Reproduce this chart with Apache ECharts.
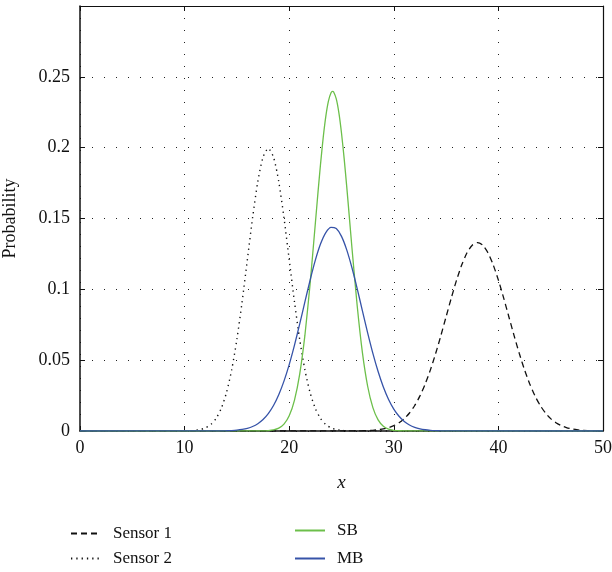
<!DOCTYPE html>
<html><head><meta charset="utf-8">
<script src="https://cdn.jsdelivr.net/npm/echarts@6/dist/echarts.min.js"></script>
<style>html,body{margin:0;padding:0;background:#fff}#c{width:612px;height:572px}</style>
</head><body><div id="c"></div>
<script>
var xTicks = [0, 10, 20, 30, 40, 50];
var yTicks = [0, 0.05, 0.1, 0.15, 0.2, 0.25];
var seriesNames = ['Sensor 1', 'Sensor 2', 'SB', 'MB'];

var sensor1X = [0, 26, 27, 28, 28.5, 29, 29.5, 30, 30.5, 31, 31.5, 32, 32.5, 33, 33.5, 34, 34.5, 35, 35.5, 36, 36.5, 37, 37.5, 38, 38.5, 39, 39.5, 40, 40.5, 41, 41.5, 42, 42.5, 43, 43.5, 44, 44.5, 45, 45.5, 46, 46.5, 47, 47.5, 48, 49, 50];
var sensor1Y = [0, 0.00004, 0.00016, 0.00051, 0.00088, 0.00148, 0.00240, 0.00380, 0.00584, 0.00874, 0.01272, 0.01800, 0.02477, 0.03316, 0.04317, 0.05467, 0.06733, 0.08066, 0.09397, 0.10648, 0.11735, 0.12579, 0.13115, 0.13298, 0.13115, 0.12579, 0.11735, 0.10648, 0.09397, 0.08066, 0.06733, 0.05467, 0.04317, 0.03316, 0.02477, 0.01800, 0.01272, 0.00874, 0.00584, 0.00380, 0.00240, 0.00148, 0.00088, 0.00051, 0.00016, 0.00004];

var sensor2X = [0, 10, 10.5, 11, 11.5, 12, 12.5, 13, 13.5, 14, 14.5, 15, 15.5, 16, 16.5, 17, 17.5, 18, 18.5, 19, 19.5, 20, 20.5, 21, 21.5, 22, 22.5, 23, 23.5, 24, 24.5, 25, 25.5, 26, 50];
var sensor2Y = [0, 0.00007, 0.00018, 0.00044, 0.00102, 0.00222, 0.00455, 0.00876, 0.01587, 0.02700, 0.04314, 0.06476, 0.09132, 0.12098, 0.15057, 0.17603, 0.19333, 0.19947, 0.19333, 0.17603, 0.15057, 0.12098, 0.09132, 0.06476, 0.04314, 0.02700, 0.01587, 0.00876, 0.00455, 0.00222, 0.00102, 0.00044, 0.00018, 0.00007, 0];

var sbX = [0, 17, 17.5, 18, 18.5, 19, 19.5, 20, 20.5, 21, 21.5, 22, 22.5, 22.75, 23, 23.25, 23.5, 23.75, 24, 24.15, 24.25, 24.5, 24.75, 25, 25.25, 25.5, 25.75, 26, 26.5, 27, 27.5, 28, 28.5, 29, 29.5, 30, 30.5, 31, 50];
var sbY = [0, 0.00002, 0.00008, 0.00026, 0.00075, 0.00199, 0.00483, 0.01069, 0.02162, 0.03995, 0.06745, 0.10403, 0.14662, 0.16826, 0.18878, 0.20708, 0.22209, 0.23287, 0.23873, 0.23970, 0.23927, 0.23445, 0.22462, 0.21038, 0.19265, 0.17249, 0.15097, 0.12920, 0.08843, 0.05529, 0.03159, 0.01649, 0.00786, 0.00343, 0.00136, 0.00050, 0.00017, 0.00005, 0];

var mbX = [0, 13, 13.5, 14, 14.5, 15, 15.5, 16, 16.5, 17, 17.5, 18, 18.5, 19, 19.5, 20, 20.5, 21, 21.5, 22, 22.5, 23, 23.5, 24, 24.5, 25, 25.5, 26, 26.5, 27, 27.5, 28, 28.5, 29, 29.5, 30, 30.5, 31, 31.5, 32, 32.5, 33, 33.5, 34, 34.5, 35, 36, 50];
var mbY = [0, 0.00005, 0.00009, 0.00018, 0.00033, 0.00061, 0.00110, 0.00190, 0.00318, 0.00515, 0.00807, 0.01225, 0.01798, 0.02558, 0.03519, 0.04688, 0.06044, 0.07543, 0.09112, 0.10655, 0.12059, 0.13211, 0.14009, 0.14379, 0.14286, 0.13738, 0.12787, 0.11521, 0.10048, 0.08482, 0.06931, 0.05481, 0.04196, 0.03109, 0.02230, 0.01548, 0.01040, 0.00677, 0.00426, 0.00260, 0.00153, 0.00087, 0.00048, 0.00026, 0.00013, 0.00007, 0.00002, 0];

function pairs(xs, ys) { return xs.map(function (x, i) { return [x, ys[i]]; }); }

var FONT = '"Liberation Serif", "DejaVu Serif", serif';
var gridLine = { show: true, lineStyle: { color: '#222', width: 1, type: [1, 11] } };
var legendBase = { itemWidth: 30, itemHeight: 12, itemGap: 0,
  itemStyle: { opacity: 0 },
  textStyle: { fontFamily: FONT, fontSize: 17, color: '#111', padding: [0, 0, 0, 7] } };
function legendAt(name, left, top) {
  return Object.assign({}, legendBase, { data: [name], left: left, top: top });
}

var chart = echarts.init(document.getElementById('c'), null, { renderer: 'canvas' });
chart.setOption({
  animation: false,
  backgroundColor: '#fff',
  textStyle: { fontFamily: FONT },
  grid: { left: 80, right: 9, top: 6, bottom: 141, containLabel: false, outerBoundsMode: 'none' },
  xAxis: [{
    type: 'value', min: 0, max: 50, interval: 10, position: 'bottom',
    name: 'x', nameLocation: 'middle', nameGap: 42,
    nameTextStyle: { fontFamily: FONT, fontSize: 19, fontStyle: 'italic', color: '#111' },
    axisLine: { show: true, onZero: false, lineStyle: { color: '#111', width: 1.5 } },
    axisTick: { show: true, inside: true, length: 5, lineStyle: { color: '#111' } },
    axisLabel: { fontFamily: FONT, fontSize: 18, color: '#111', margin: 8 },
    splitLine: gridLine
  }, {
    type: 'value', min: 0, max: 50, interval: 10, position: 'top',
    axisLine: { show: true, onZero: false, lineStyle: { color: '#111', width: 1.2 } },
    axisTick: { show: true, inside: true, length: 5, lineStyle: { color: '#111' } },
    axisLabel: { show: false }, splitLine: { show: false }
  }],
  yAxis: [{
    type: 'value', min: 0, max: 0.3, interval: 0.05, position: 'left',
    name: 'Probability', nameLocation: 'middle', nameGap: 61, nameRotate: 90,
    nameTextStyle: { fontFamily: FONT, fontSize: 18, color: '#111' },
    axisLine: { show: true, onZero: false, lineStyle: { color: '#111', width: 1.5 } },
    axisTick: { show: true, inside: true, length: 5, lineStyle: { color: '#111' } },
    axisLabel: {
      fontFamily: FONT, fontSize: 18, color: '#111', margin: 10,
      formatter: function (v) { var r = Math.round(v * 100) / 100; return yTicks.indexOf(r) >= 0 ? String(r) : ''; }
    },
    splitLine: gridLine
  }, {
    type: 'value', min: 0, max: 0.3, interval: 0.05, position: 'right',
    axisLine: { show: true, onZero: false, lineStyle: { color: '#111', width: 1.2 } },
    axisTick: { show: true, inside: true, length: 5, lineStyle: { color: '#111' } },
    axisLabel: { show: false }, splitLine: { show: false }
  }],
  legend: [
    legendAt(seriesNames[0], 65, 520),
    legendAt(seriesNames[1], 65, 545),
    legendAt(seriesNames[2], 289, 517),
    legendAt(seriesNames[3], 289, 545)
  ],
  series: [
    { name: seriesNames[0], type: 'line', data: pairs(sensor1X, sensor1Y), symbol: 'none', smooth: 0.25,
      lineStyle: { color: '#111', width: 1.3, type: [6, 4] }, itemStyle: { color: '#111' } },
    { name: seriesNames[1], type: 'line', data: pairs(sensor2X, sensor2Y), symbol: 'none', smooth: 0.25,
      lineStyle: { color: '#111', width: 1.4, type: [1.3, 4] }, itemStyle: { color: '#111' } },
    { name: seriesNames[2], type: 'line', data: pairs(sbX, sbY), symbol: 'none', smooth: 0.2,
      lineStyle: { color: '#6cbf4a', width: 1.3 }, itemStyle: { color: '#6cbf4a' } },
    { name: seriesNames[3], type: 'line', data: pairs(mbX, mbY), symbol: 'none', smooth: 0.25,
      lineStyle: { color: '#3653a8', width: 1.3 }, itemStyle: { color: '#3653a8' } }
  ]
});
</script></body></html>
